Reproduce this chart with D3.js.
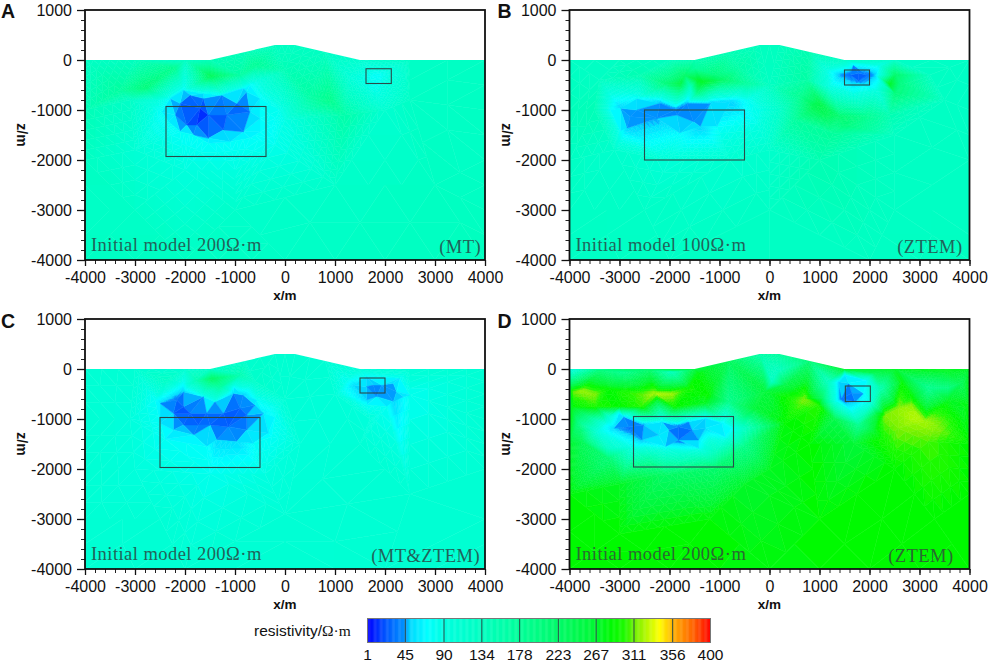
<!DOCTYPE html>
<html>
<head>
<meta charset="utf-8">
<script src="https://cdn.jsdelivr.net/npm/d3@7"></script>
<style>
body { margin: 0; background: #fff; }
text { font-family: "Liberation Sans", Arial, sans-serif; fill: #111; }
.note { font-family: "Liberation Serif", serif; font-size: 18.5px; letter-spacing: 0.45px; }
</style>
</head>
<body>
<div id="d3_container"></div>
<script>
// colour bar
const barTicks = [1, 45, 90, 134, 178, 223, 267, 311, 356, 400];
const colorStops = [1, 20, 45, 50, 70, 90, 134, 178, 223, 267, 285, 300, 311, 340, 356, 380, 400];
const colorValues = ["#0000ff", "#0050ff", "#0098ff", "#00d8ff", "#00ffff", "#00ffe0", "#00ffc0", "#00ff98", "#00fa68", "#00f830", "#00fa00", "#20fa00", "#70f000", "#ffff00", "#ffb000", "#ff6000", "#ff0000"];

const terrainX = [-4000, -1500, -200, 200, 1500, 4000];
const terrainZ = [0, 0, 300, 300, 0, 0];

const captions = ["Initial model 200Ω·m", "Initial model 100Ω·m", "Initial model 200Ω·m", "Initial model 200Ω·m"];
const methods = ["(MT)", "(ZTEM)", "(MT&ZTEM)", "(ZTEM)"];
const methodInset = [4, 7, 5, 16];
const letters = ["A", "B", "C", "D"];

// target boxes [x0, x1, z0, z1]
const bigBoxes = [[-2380, -380, -930, -1930], [-2500, -500, -1000, -2000], [-2500, -500, -970, -1970], [-2720, -720, -950, -1960]];
const smallBoxes = [[1620, 2126, -175, -470], [1500, 2000, -200, -500], [1500, 2000, -180, -480], [1517, 2017, -340, -650]];

// mesh samples: [x, z, resistivity]
const meshA = [
  [-4000,0,125],[-3000,0,135],[-2000,0,125],[-1500,0,145],[-800,170,140],[-200,300,130],[200,300,130],[800,170,130],[1500,0,110],[2500,0,125],[4000,0,130],
  [4000,-1000,130],[4000,-2000,125],[4000,-3000,130],[4000,-4000,135],[2000,-4000,130],[0,-4000,125],[-2000,-4000,130],[-4000,-4000,130],[-4000,-3000,125],[-4000,-2000,130],[-4000,-1000,145],
  [-3300,-600,170],[-2800,-550,205],[-2200,-150,185],[-1500,-320,235],[-1500,-100,170],[-900,-300,165],[-600,-100,180],[0,-200,145],[500,-700,165],[900,-800,190],[1200,-1100,160],
  [0,-1200,85],[-100,-1000,82],[-200,-1700,80],[-1000,-2200,90],[-2000,-2200,92],[-3000,-1800,105],[-3100,-800,125],[-2600,-800,95],[-1000,-3000,118],[-3000,-3000,122],
  [2000,-1000,110],[1800,-800,100],[1800,-600,82],[1850,-320,72],[1300,-350,100],[2400,-300,110],[2500,-800,125],[3000,-2500,130],[1000,-2500,120],
  [-2467,-1033,72],[-2300,-767,72],[-2033,-600,72],[-1633,-667,72],[-1267,-700,72],[-833,-567,72],[-700,-500,72],[-500,-767,72],[-500,-1167,72],[-267,-1333,72],[-500,-1433,72],[-700,-1567,72],[-1100,-1633,72],[-1533,-1667,72],[-1833,-1500,72],[-2100,-1433,72],[-2333,-1233,72],
  [-1700,-967,10],[-1767,-1300,14],[-1533,-1100,12],[-2100,-867,34],[-967,-867,26],[-1167,-1100,20],[-700,-1033,42],[-1533,-1567,44],[-833,-1433,50],[-2200,-1100,34],[-1900,-700,38],[-1633,-767,42],[-767,-633,50],[-1233,-1400,38],[-1967,-1300,30]
];
const meshB = [
  [-4000,0,125],[-3000,0,130],[-2000,0,135],[-1500,0,150],[-800,170,145],[-200,300,135],[200,300,135],[800,170,150],[1500,0,125],[2500,0,125],[4000,0,125],
  [4000,-1000,125],[4000,-2000,128],[4000,-3000,128],[4000,-4000,132],[2000,-4000,128],[0,-4000,128],[-2000,-4000,128],[-4000,-4000,128],[-4000,-3000,128],[-4000,-2000,128],[-4000,-1000,140],
  [-3500,-1000,145],[-3400,-400,130],[-2600,-300,150],[-1500,-150,170],[-600,-150,160],[0,-500,130],[200,-1000,120],[-3100,-1800,115],[-2000,-2000,100],[-800,-2000,110],[0,-1800,115],[0,-3000,128],[-2500,-3000,125],[2500,-3000,128],[1000,-2000,150],[2500,-1500,130],[3500,-800,128],[3200,-300,132],
  [-2786,-1133,42],[-2853,-1367,48],[-2986,-967,48],[-2653,-1000,44],[-1853,-1100,38],[-1519,-1233,42],[-2186,-867,42],[-1653,-867,40],[-1186,-867,44],[-786,-833,46],[-2253,-1167,44],[-1386,-1333,48],[-1886,-1000,34],
  [-453,-800,75],[-186,-1000,85],[-2653,-767,72],[-3186,-1000,76],[-2986,-1433,78],[-1786,-1467,68],[-1053,-1333,72],[-253,-1267,85],
  [-1453,-400,262],[-1786,-467,250],[-1319,-433,270],[-919,-400,220],[-2053,-467,210],[-453,-467,170],[-1453,-667,190],[-1586,-567,125],[-1700,-300,220],[-1100,-300,205],
  [880,-933,238],[1014,-867,245],[1100,-1100,235],[1500,-1300,205],[1414,-1133,215],[1947,-1133,185],[1280,-1467,175],[614,-733,185],[747,-400,165],[500,-1200,170],[2400,-1100,150],
  [1781,-267,12],[1614,-300,28],[1947,-300,30],[1414,-300,44],[2114,-300,48],[1781,-413,38],[1681,-100,68],[1747,-467,55],[1214,-533,88],[1681,-667,85],[2147,-600,88],[1147,-200,90],[2214,-100,90],
  [2400,-480,272],[2514,-300,220],[2514,-667,205],[2281,-500,110],[2614,-467,200]
];
const meshC = [
  [-4000,0,108],[-3000,0,108],[-2000,0,108],[-1500,0,125],[-800,170,115],[-200,300,112],[200,300,112],[800,170,108],[1500,0,100],[2500,0,105],[4000,0,108],
  [4000,-1000,108],[4000,-2000,108],[4000,-3000,108],[4000,-4000,112],[2000,-4000,108],[0,-4000,108],[-2000,-4000,108],[-4000,-4000,108],[-4000,-3000,108],[-4000,-2000,108],[-4000,-1000,108],
  [-1467,-187,225],[-1767,-220,150],[-2367,-220,125],[-900,-120,150],[-1300,-350,170],[-600,-250,120],[0,-600,105],[300,-1500,98],[-3100,-1000,95],[-3000,-2000,95],[-1500,-2100,80],[-400,-2100,90],[0,-2900,105],[-2500,-3000,105],[2500,-2500,108],[1500,-1500,105],
  [-2033,-753,18],[-1900,-887,16],[-2167,-620,30],[-2033,-453,48],[-2233,-887,32],[-2500,-687,52],[-1567,-887,32],[-1233,-887,22],[-900,-787,24],[-767,-920,32],[-1033,-487,50],[-833,-520,46],[-600,-720,55],[-433,-887,60],[-1733,-1120,26],[-2033,-1120,38],[-1500,-1120,30],[-1133,-1153,26],[-767,-1220,42],[-967,-1453,52],[-1367,-1420,52],[-1833,-1320,52],[-333,-1287,62],[-2233,-1220,55],
  [-2600,-620,75],[-2033,-287,75],[-1633,-553,75],[-1400,-653,75],[-1033,-353,75],[-567,-620,75],[-200,-953,75],[-267,-1353,75],[-633,-1487,72],[-1567,-1553,72],[-2400,-1400,75],[-2500,-1087,75],
  [1767,-320,32],[1633,-353,42],[1933,-320,40],[1833,-553,46],[1633,-620,52],[1367,-320,55],[2233,-453,46],[2167,-287,50],[2367,-553,52],[2167,-653,50],
  [1233,-253,78],[1633,-153,76],[2033,-753,76],[2500,-520,78],[1633,-720,76],[2300,-187,78],[1700,-1000,95],[1000,-500,100]
];
const meshD = [
  [-4000,0,85],[-3400,-20,205],[-2950,-50,185],[-2400,-20,220],[-1950,-50,135],[-1420,-87,280],[-1500,0,255],[-800,170,230],[-200,300,160],[200,300,170],[800,170,210],[1500,0,265],[2500,0,272],[4000,0,272],
  [4000,-700,278],[4000,-1500,285],[4000,-2500,285],[4000,-4000,285],[2000,-4000,284],[0,-4000,280],[-2000,-4000,284],[-4000,-4000,285],[-4000,-2500,282],[-4000,-1500,265],
  [-3753,-420,320],[-3486,-487,314],[-3953,-453,308],[-3186,-387,282],[-2953,-453,296],[-2286,-487,325],[-1953,-487,320],[-2519,-487,310],[-1619,-387,292],[-1219,-520,285],
  [-3953,-753,282],[-3486,-753,298],[-3000,-750,285],[-2553,-753,302],[-1900,-760,288],[-1286,-687,270],[-3686,-920,210],[-819,-653,190],[-486,-920,210],[-286,-787,258],
  [-3819,-1053,195],[-3419,-1253,92],[-3219,-953,108],[-3019,-887,70],[-3253,-1120,70],
  [-3119,-1187,52],[-2919,-953,48],[-2819,-1153,28],[-2519,-1120,38],[-2553,-1420,44],[-2219,-1320,62],[-1819,-1153,26],[-1819,-1420,30],[-2019,-1220,40],[-1553,-1220,34],[-1619,-1053,54],[-1286,-1187,50],[-953,-1087,60],[-1419,-1420,60],[-2153,-1053,66],[-1286,-987,64],
  [-753,-1187,72],[-886,-1353,75],[-1419,-1587,76],[-2086,-1553,72],[-2753,-1553,85],[-3219,-1587,125],[-553,-1187,115],[-486,-1520,190],[-1086,-1653,135],[-1753,-1720,115],[-2419,-1820,170],[-3219,-1787,210],[-3753,-1453,235],[-1086,-1987,220],[-2086,-2120,225],[-3000,-2300,272],[-500,-2300,268],
  [48,-253,130],[180,-20,135],[-86,-453,258],[314,-320,250],[714,-587,314],[981,-720,302],[447,-587,298],[300,-1100,283],[800,-1500,285],[0,-2000,272],
  [1647,-487,14],[1447,-587,30],[1381,-253,56],[1514,-120,55],[1881,-487,64],[1714,-653,52],[1581,-287,62],[1947,-220,78],[2214,-387,150],[1647,-853,82],[1781,-1120,185],[1314,-653,92],[1181,-253,130],[1047,-587,230],[2014,-687,92],[2147,-920,258],[2114,-87,235],[1700,-1500,262],[1300,-1000,245],[2100,-1250,268],
  [2914,-953,325],[2581,-787,318],[2314,-920,314],[3114,-1053,322],[3314,-1187,316],[2847,-720,316],[2581,-1187,314],[3181,-1453,306],[3500,-1000,304],[2300,-1400,296],[2647,-253,282],[3181,-387,185],[3581,-387,200],[3848,-287,235],[3581,-620,272],[3850,-850,272],[2847,-520,282],[3581,-53,270],
  [2500,-2000,285],[1000,-3000,284],[-1200,-3000,284],[3300,-3000,285],[-3000,-3300,285]
];
const meshes = [meshA, meshB, meshC, meshD];

const svg = d3.select("#d3_container").append("svg")
  .attr("width", 989)
  .attr("height", 663);

const soft = svg.append("defs").append("filter").attr("id", "soft")
  .attr("x", "-2%").attr("y", "-2%").attr("width", "104%").attr("height", "104%");
soft.append("feGaussianBlur").attr("stdDeviation", 0.5);

const color = d3.scaleLinear().domain(colorStops).range(colorValues).clamp(true);
const tickText = d3.format("d");
const plainTick = d => tickText(d).replace("−", "-");

const panelLeft = [85, 569.5, 85, 569.5];
const panelTop = [10, 10, 319, 319];
const plotW = 400, plotH = 250;

meshes.forEach((mesh, i) => {
  const g = svg.append("g").attr("transform", `translate(${panelLeft[i]},${panelTop[i]})`);
  const x = d3.scaleLinear().domain([-4000, 4000]).range([0, plotW]);
  const y = d3.scaleLinear().domain([-4000, 1000]).range([plotH, 0]);

  // ground outline used as clip
  const outline = terrainX.map((v, k) => [x(v), y(terrainZ[k])]);
  outline.push([x(4000), y(-4000)], [x(-4000), y(-4000)]);
  svg.select("defs").append("clipPath").attr("id", "ground" + i)
    .append("polygon").attr("points", outline.join(" "));

  // triangles: low-resistivity ones stay flat (facets), the rest shade linearly
  const del = d3.Delaunay.from(mesh, d => x(d[0]), d => y(d[1]));
  const cells = [];
  for (let t = 0; t < del.triangles.length; t += 3) {
    const [a, b, c] = [del.triangles[t], del.triangles[t + 1], del.triangles[t + 2]].map(k => mesh[k]);
    const top = d3.max([a[2], b[2], c[2]]);
    const spread = top - d3.min([a[2], b[2], c[2]]);
    const n = top < 80 ? 1 : Math.min(9, Math.ceil(spread / 10) + 1);
    const at = (u, v) => {
      const w = n - u - v;
      return [(a[0] * u + b[0] * v + c[0] * w) / n, (a[1] * u + b[1] * v + c[1] * w) / n, (a[2] * u + b[2] * v + c[2] * w) / n];
    };
    for (let u = 0; u < n; u++) {
      for (let v = 0; v < n - u; v++) {
        cells.push([at(u, v), at(u + 1, v), at(u, v + 1)]);
        if (u + v < n - 1) cells.push([at(u + 1, v), at(u + 1, v + 1), at(u, v + 1)]);
      }
    }
  }

  const ground = g.append("g").attr("clip-path", `url(#ground${i})`).append("g").attr("filter", "url(#soft)");
  ground.selectAll("polygon")
    .data(cells)
    .enter()
    .append("polygon")
    .attr("points", d => d.map(p => [x(p[0]).toFixed(2), y(p[1]).toFixed(2)]).join(" "))
    .attr("fill", d => color(d3.mean(d, p => p[2])))
    .attr("stroke", d => color(d3.mean(d, p => p[2])))
    .attr("stroke-width", 0.5);

  // target boxes
  [bigBoxes[i], smallBoxes[i]].forEach(b => {
    g.append("rect")
      .attr("x", x(b[0]))
      .attr("y", y(b[2]))
      .attr("width", x(b[1]) - x(b[0]))
      .attr("height", y(b[3]) - y(b[2]))
      .attr("fill", "none")
      .attr("stroke", "#2b4a48")
      .attr("stroke-width", 1.1);
  });

  g.append("text").attr("class", "note")
    .attr("x", 6).attr("y", 241)
    .style("fill", i == 3 ? "#2a6a30" : "#21645a")
    .text(captions[i]);
  g.append("text").attr("class", "note")
    .attr("x", plotW - methodInset[i]).attr("y", 243)
    .attr("text-anchor", "end")
    .style("fill", i == 3 ? "#2a6a30" : "#21645a")
    .text(methods[i]);

  // axes
  const xAxis = d3.axisBottom(x).tickValues(d3.range(-4000, 4001, 1000)).tickFormat(plainTick).tickSize(6).tickPadding(6);
  const xMinor = d3.axisBottom(x).tickValues(d3.range(-4000, 4001, 200)).tickFormat("").tickSize(4);
  const yAxis = d3.axisLeft(y).tickValues(d3.range(-4000, 1001, 1000)).tickFormat(plainTick).tickSize(8).tickPadding(5);
  const yMinor = d3.axisLeft(y).tickValues(d3.range(-4000, 1001, 200)).tickFormat("").tickSize(4);

  [g.append("g").attr("transform", `translate(0,${plotH})`).call(xMinor),
   g.append("g").call(yMinor)].forEach(a => {
    a.select(".domain").remove();
    a.selectAll("line").attr("stroke", "#222").attr("stroke-width", 1);
  });
  [g.append("g").attr("transform", `translate(0,${plotH})`).call(xAxis),
   g.append("g").call(yAxis)].forEach(a => {
    a.select(".domain").remove();
    a.selectAll("line").attr("stroke", "#111").attr("stroke-width", 1.3);
    a.selectAll("text").style("font-size", "16px").style("font-family", '"Liberation Sans", Arial, sans-serif').attr("fill", "#111");
  });

  g.append("rect")
    .attr("width", plotW).attr("height", plotH)
    .attr("fill", "none").attr("stroke", "#111").attr("stroke-width", 1.8);

  g.append("text")
    .attr("x", plotW / 2).attr("y", 290)
    .attr("text-anchor", "middle")
    .style("font-size", "13.5px").style("font-weight", "bold")
    .text("x/m");
  g.append("text")
    .attr("transform", `translate(-68,${plotH / 2}) rotate(90)`)
    .attr("text-anchor", "middle")
    .style("font-size", "14px").style("font-weight", "bold")
    .text("z/m");
  g.append("text")
    .attr("x", i % 2 ? -72 : -84).attr("y", i < 2 ? 8 : 9)
    .style("font-size", "19.5px").style("font-weight", "bold")
    .text(letters[i]);
});

// colour bar
const barX = d3.scaleLinear().domain([1, 400]).range([367.5, 710.5]);
const barY = 618.5, barH = 24;
const bar = svg.append("g");
bar.selectAll("rect.step")
  .data(d3.range(1, 400, 1))
  .enter()
  .append("rect")
  .attr("class", "step")
  .attr("x", d => barX(d))
  .attr("y", barY)
  .attr("width", barX(2) - barX(1) + 0.4)
  .attr("height", barH)
  .attr("fill", d => color(d));
bar.selectAll("line")
  .data(barTicks.slice(1, -1))
  .enter()
  .append("line")
  .attr("x1", d => barX(d)).attr("x2", d => barX(d))
  .attr("y1", barY).attr("y2", barY + barH)
  .attr("stroke", "#2b4a48").attr("stroke-width", 1);
bar.append("rect")
  .attr("x", barX(1)).attr("y", barY)
  .attr("width", barX(400) - barX(1)).attr("height", barH)
  .attr("fill", "none").attr("stroke", "#777").attr("stroke-width", 1);
bar.selectAll("text")
  .data(barTicks)
  .enter()
  .append("text")
  .attr("x", d => barX(d))
  .attr("y", 660)
  .attr("text-anchor", "middle")
  .style("font-size", "15.5px")
  .text(d => d);
const unit = svg.append("text").attr("x", 254).attr("y", 636).style("font-size", "15.5px").text("resistivity/");
unit.append("tspan").style("font-family", '"Liberation Serif", serif').text("Ω·m");
</script>
</body>
</html>
